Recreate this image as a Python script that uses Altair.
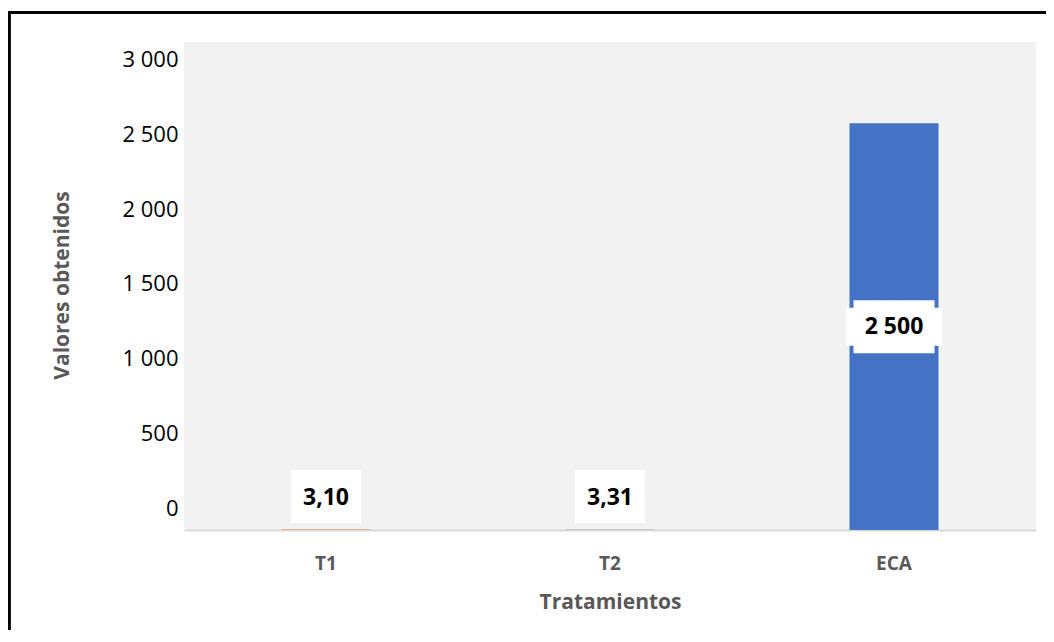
import altair as alt
import pandas as pd

# ---- data ----
categorias = ["T1", "T2", "ECA"]
valores = [3.10, 3.31, 2500]
etiquetas = ["3,10", "3,31", "2 500"]
colores = ["#ED7D31", "#A5A5A5", "#4472C4"]
ticks_y = [0, 500, 1000, 1500, 2000, 2500, 3000]

df = pd.DataFrame({"cat": categorias, "valor": valores, "etiqueta": etiquetas, "color": colores})

FONT = "Open Sans"
GRAY = "#595959"
W, H = 852, 488

x_enc = alt.X("cat:N", sort=categorias,
              scale=alt.Scale(paddingInner=0, paddingOuter=0),
              axis=alt.Axis(title="Tratamientos", labelAngle=0, ticks=False,
                            domainColor="#D9D9D9", domainWidth=2,
                            labelFont=FONT, labelFontSize=19, labelFontWeight="bold",
                            labelColor=GRAY, labelBaseline="middle", labelPadding=33,
                            titleFont=FONT, titleFontSize=21, titleFontWeight="bold",
                            titleColor=GRAY, titleY=72, titleBaseline="middle"))
y_scale = alt.Scale(domain=[0, 3000], nice=False, zero=False)

base = alt.Chart(df)

bars = base.mark_bar(width=89).encode(
    x=x_enc,
    y=alt.Y("valor:Q", scale=y_scale, axis=None),
    color=alt.Color("color:N", scale=None),
)

rect_path = "M-1,-0.757H1V0.757H-1Z"
cross_path = ("M-1,-0.396H-0.844V-0.552H0.844V-0.396H1V0.396H0.844V0.552"
              "H-0.844V0.396H-1Z")

small = base.transform_filter("datum.valor < 100")
large = base.transform_filter("datum.valor >= 100").transform_calculate(mid="datum.valor / 2")

box_small = small.mark_point(shape=rect_path, size=4900, filled=True, fill="white",
                             opacity=1, strokeWidth=0, yOffset=-33).encode(
    x=alt.X("cat:N", sort=categorias), y=alt.Y("valor:Q", scale=y_scale, axis=None))
txt_small = small.mark_text(font=FONT, fontSize=23, fontWeight="bold", color="black",
                            baseline="middle", yOffset=-31).encode(
    x=alt.X("cat:N", sort=categorias), y=alt.Y("valor:Q", scale=y_scale, axis=None),
    text="etiqueta:N")

box_large = large.mark_point(shape=cross_path, size=9216, filled=True, fill="white",
                             opacity=1, strokeWidth=0).encode(
    x=alt.X("cat:N", sort=categorias), y=alt.Y("mid:Q", scale=y_scale, axis=None))
txt_large = large.mark_text(font=FONT, fontSize=23, fontWeight="bold", color="black",
                            baseline="middle").encode(
    x=alt.X("cat:N", sort=categorias), y=alt.Y("mid:Q", scale=y_scale, axis=None),
    text="etiqueta:N")

border = alt.Chart(df).mark_rect(fill="transparent", stroke="black", strokeWidth=3).encode(
    x=alt.value(-175), x2=alt.value(W + 40), y=alt.value(-29.5), y2=alt.value(H + 150))

inner = alt.layer(bars, box_small, txt_small, box_large, txt_large, border)

# axis layer (labels placed as in the reference)
axis_layer = alt.Chart(pd.DataFrame({"t": ticks_y})).mark_point(opacity=0).encode(
    y=alt.Y("t:Q", scale=alt.Scale(domain=[-147.3, 3120.5], nice=False, zero=False),
            axis=alt.Axis(orient="left", values=ticks_y, ticks=False, domain=False, grid=False,
                          labelFont=FONT, labelFontSize=22, labelColor="black",
                          labelPadding=6, labelBaseline="middle",
                          labelExpr="datum.value >= 1000 ? floor(datum.value/1000) + ' ' + format(datum.value % 1000, '03d') : datum.value + ''",
                          title="Valores obtenidos", titleFont=FONT, titleFontSize=21,
                          titleFontWeight="bold", titleColor=GRAY, titleX=-122, titleY=243,
                          titleAngle=270, titleAlign="center", titleBaseline="middle")),
)

chart = alt.layer(inner, axis_layer).resolve_scale(y="independent").properties(
    width=W, height=H,
    autosize=alt.AutoSizeParams(type="none"),
    padding={"left": 176, "top": 34, "right": 10, "bottom": 100},
    background="white",
).configure_view(fill="#F2F2F2", strokeWidth=0)

chart.save("out.html", embed_options={"renderer": "svg", "actions": False})
